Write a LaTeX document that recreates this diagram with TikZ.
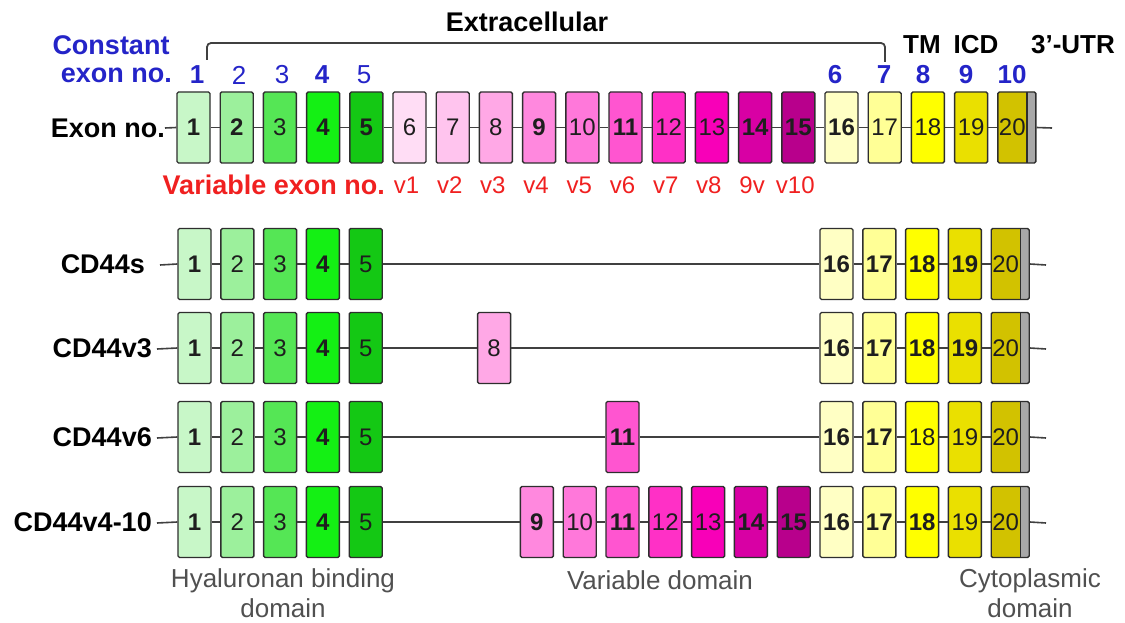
\documentclass[tikz,border=0pt]{standalone}
\usepackage{fontspec}
\setmainfont{Liberation Sans}
\definecolor{c1}{HTML}{C8F7C8}
\definecolor{c2}{HTML}{9CF09C}
\definecolor{c3}{HTML}{55E655}
\definecolor{c4}{HTML}{14F014}
\definecolor{c5}{HTML}{14C814}
\definecolor{c6}{HTML}{FFDDF5}
\definecolor{c7}{HTML}{FFC4EE}
\definecolor{c8}{HTML}{FFA8E6}
\definecolor{c9}{HTML}{FF88DE}
\definecolor{c10}{HTML}{FF78DA}
\definecolor{c11}{HTML}{FF55D0}
\definecolor{c12}{HTML}{FF30C6}
\definecolor{c13}{HTML}{F800B8}
\definecolor{c14}{HTML}{D800A4}
\definecolor{c15}{HTML}{B8008C}
\definecolor{c16}{HTML}{FFFFC4}
\definecolor{c17}{HTML}{FFFF96}
\definecolor{c18}{HTML}{FFFF00}
\definecolor{c19}{HTML}{EAE000}
\definecolor{c20}{HTML}{D2C200}
\definecolor{stripcol}{HTML}{A8A8A8}
\definecolor{boxline}{HTML}{2E2E2E}
\definecolor{linecol}{HTML}{404040}
\definecolor{numcol}{HTML}{1E1E1E}
\definecolor{blueno}{HTML}{2424C8}
\definecolor{redno}{HTML}{F02020}
\definecolor{domcol}{HTML}{505050}
\begin{document}
\begin{tikzpicture}[x=1pt,y=-1pt,
  exon/.style={draw=boxline, line width=1.4pt, rounded corners=1.5pt,
    minimum width=33pt, minimum height=71pt, inner sep=0pt, text=numcol},
  exr/.style={font=\fontsize{24}{24}\selectfont},
  exb/.style={font=\fontsize{24}{24}\selectfont\bfseries},
  lastexon/.style={minimum width=38pt,
    path picture={
      \fill[stripcol] ([xshift=-9pt]path picture bounding box.north east)
        rectangle (path picture bounding box.south east);
      \draw[boxline, line width=1.4pt]
        ([xshift=-9pt]path picture bounding box.north east) --
        ([xshift=-9pt]path picture bounding box.south east);}},
  intron/.style={draw=linecol, line width=1.6pt},
  rowlab/.style={font=\fontsize{27}{27}\selectfont\bfseries, anchor=east, inner sep=0pt},
  bluelab/.style={font=\fontsize{27}{27}\selectfont\bfseries, text=blueno, inner sep=0pt},
  bnum/.style={font=\fontsize{26}{26}\selectfont\bfseries, text=blueno, inner sep=0pt},
  bnumr/.style={font=\fontsize{26}{26}\selectfont, text=blueno, inner sep=0pt},
  toplab/.style={font=\fontsize{26}{26}\selectfont\bfseries, inner sep=0pt},
  vlab/.style={font=\fontsize{24}{24}\selectfont, text=redno, inner sep=0pt},
  domlab/.style={font=\fontsize{26}{30}\selectfont, text=domcol, align=center, inner sep=0pt},
  bracket/.style={draw=linecol, line width=1.8pt, rounded corners=4pt}
]
\useasboundingbox (0,0) rectangle (1125,623);

% ---------- header texts ----------
\node[toplab, font=\fontsize{27}{27}\selectfont\bfseries] (extra) at (527,22) {Extracellular};
\coordinate (brl) at (207,60);
\coordinate (brr) at (885,62);
\coordinate (brlt) at (207,43);
\coordinate (brrt) at (885,43);
\draw[bracket] (brl) -- (brlt) -- (brrt) -- (brr);

\node[bluelab] (const) at (111,45) {Constant};
\node[bluelab, anchor=east] (cexon) at (172,75) {exon no.};
\node[toplab] (tm) at (922,45) {TM};
\node[toplab] (icd) at (976,45) {ICD};
\node[toplab] (utr) at (1073,45) {3’-UTR};

\foreach \n/\x/\s in {1/197/bnum,2/239/bnumr,3/282/bnumr,4/322/bnum,5/364/bnumr,
                      6/835/bnum,7/884/bnum,8/923/bnum,9/966/bnum,10/1012/bnum}
  \node[\s] (cn\n) at (\x,75) {\n};

% ---------- top row ----------
\node[rowlab] (exlab) at (165,128) {Exon no.};
\foreach \i/\f in {1/exb,2/exb,3/exr,4/exb,5/exb,6/exr,7/exr,8/exr,9/exb,10/exr,
                   11/exb,12/exr,13/exr,14/exb,15/exb,16/exb,17/exr,18/exr,19/exr}
  \node[exon,\f,fill=c\i] (t\i) at ({193.5+(\i-1)*43.2},127.5) {\i};
\node[exon,exr,lastexon,fill=c20] (t20) at ({177+19*43.2+19},127.5) {\hspace*{-9pt}20};
\coordinate (tend) at (1052,128);
\draw[intron] (exlab.east) -- (t1.west);
\foreach \i [evaluate=\i as \j using int(\i+1)] in {1,...,19}
  \draw[intron] (t\i.east) -- (t\j.west);
\draw[intron] (t20.east) -- (tend);

\node[font=\fontsize{27}{27}\selectfont\bfseries, text=redno, anchor=east, inner sep=0pt] (varlab) at (385,185) {Variable exon no.};
\foreach \i/\v in {6/v1,7/v2,8/v3,9/v4,10/v5,11/v6,12/v7,13/v8,14/9v,15/v10}
  \node[vlab] (vl\i) at ({190.5+(\i-1)*43.2},185) {\v};

% ---------- isoform rows ----------
% CD44s
\node[rowlab] (slab) at (145,264) {CD44s};
\coordinate (s0) at (160,265);
\foreach \i/\f in {1/exb,2/exr,3/exr,4/exb,5/exr,16/exb,17/exb,18/exb,19/exb}
  \node[exon,\f,fill=c\i] (s\i) at ({194.5+(\i-1)*42.8},264) {\i};
\node[exon,exr,lastexon,fill=c20] (s20) at ({178+19*42.8+19},264) {\hspace*{-9pt}20};
\coordinate (send) at (1046,265);
\draw[intron] (s0) -- (s1.west);
\foreach \a/\b in {1/2,2/3,3/4,4/5,5/16,16/17,17/18,18/19,19/20}
  \draw[intron] (s\a.east) -- (s\b.west);
\draw[intron] (s20.east) -- (send);

% CD44v3
\node[rowlab] (v3lab) at (152,348) {CD44v3};
\coordinate (a0) at (157,349);
\foreach \i/\f in {1/exb,2/exr,3/exr,4/exb,5/exr,8/exr,16/exb,17/exb,18/exb,19/exb}
  \node[exon,\f,fill=c\i] (a\i) at ({194.5+(\i-1)*42.8},348) {\i};
\node[exon,exr,lastexon,fill=c20] (a20) at ({178+19*42.8+19},348) {\hspace*{-9pt}20};
\coordinate (aend) at (1046,349);
\draw[intron] (a0) -- (a1.west);
\foreach \a/\b in {1/2,2/3,3/4,4/5,5/8,8/16,16/17,17/18,18/19,19/20}
  \draw[intron] (a\a.east) -- (a\b.west);
\draw[intron] (a20.east) -- (aend);

% CD44v6
\node[rowlab] (v6lab) at (152,437) {CD44v6};
\coordinate (b0) at (157,438);
\foreach \i/\f in {1/exb,2/exr,3/exr,4/exb,5/exr,11/exb,16/exb,17/exb,18/exr,19/exr}
  \node[exon,\f,fill=c\i] (b\i) at ({194.5+(\i-1)*42.8},437) {\i};
\node[exon,exr,lastexon,fill=c20] (b20) at ({178+19*42.8+19},437) {\hspace*{-9pt}20};
\coordinate (bend) at (1046,438);
\draw[intron] (b0) -- (b1.west);
\foreach \a/\b in {1/2,2/3,3/4,4/5,5/11,11/16,16/17,17/18,18/19,19/20}
  \draw[intron] (b\a.east) -- (b\b.west);
\draw[intron] (b20.east) -- (bend);

% CD44v4-10
\node[rowlab] (v410lab) at (152,522) {CD44v4-10};
\coordinate (d0) at (157,523);
\foreach \i/\f in {1/exb,2/exr,3/exr,4/exb,5/exr,9/exb,10/exr,11/exb,12/exr,13/exr,
                   14/exb,15/exb,16/exb,17/exb,18/exb,19/exr}
  \node[exon,\f,fill=c\i] (d\i) at ({194.5+(\i-1)*42.8},522) {\i};
\node[exon,exr,lastexon,fill=c20] (d20) at ({178+19*42.8+19},522) {\hspace*{-9pt}20};
\coordinate (dend) at (1046,523);
\draw[intron] (d0) -- (d1.west);
\foreach \a/\b in {1/2,2/3,3/4,4/5,5/9,9/10,10/11,11/12,12/13,13/14,14/15,15/16,16/17,17/18,18/19,19/20}
  \draw[intron] (d\a.east) -- (d\b.west);
\draw[intron] (d20.east) -- (dend);

% ---------- domain labels ----------
\node[domlab] (hbd) at (283,593) {Hyaluronan binding\\domain};
\node[domlab] (vd) at (660,580) {Variable domain};
\node[domlab] (cyd) at (1030,593) {Cytoplasmic\\domain};
\end{tikzpicture}
\end{document}
